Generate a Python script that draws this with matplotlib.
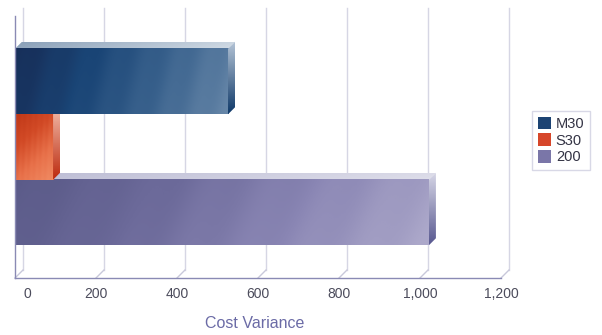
import numpy as np
import matplotlib
matplotlib.use('Agg')
import matplotlib.pyplot as plt
from matplotlib.colors import LinearSegmentedColormap
from matplotlib.patches import Polygon, Patch
from matplotlib.transforms import ScaledTranslation

# ---- data ----
series = ['M30', 'S30', '200']
values = [526, 94, 1022]
x_ticks = [0, 200, 400, 600, 800, 1000, 1200]
x_tick_labels = ['0', '200', '400', '600', '800', '1,000', '1,200']
x_label = 'Cost Variance'

# ---- styles ----
front_stops = {
    'M30': ['#172d57', '#1a4576', '#3b638e', '#6686a8'],
    'S30': ['#c03818', '#d24a26', '#e8714a', '#f08a62'],
    '200': ['#5a5a88', '#6c6a9a', '#8a86b4', '#aca8ca'],
}
top_stops = {
    'M30': ['#8aa0b8', '#d2dce6'],
    'S30': ['#e89a84', '#f4c4b4'],
    '200': ['#bcbcd4', '#dedeea'],
}
side_stops = {
    'M30': ['#0e3868', '#b4c4d6'],
    'S30': ['#bc2a0e', '#f2bcaa'],
    '200': ['#585890', '#d6d6e6'],
}
legend_colors = {'M30': '#1c4373', 'S30': '#d6462a', '200': '#7a76a8'}

plt.rcParams['font.family'] = ['Liberation Sans', 'DejaVu Sans']

W, H = 602, 335
fig = plt.figure(figsize=(W / 100, H / 100), dpi=100)
ax = fig.add_axes([15 / W, 1 - 278 / H, 486 / W, 262 / H])
xmin, xmax = 0, 1200
ax.set_xlim(xmin, xmax)
ax.set_ylim(-0.5, 0.5)

px_x = (xmax - xmin) / 486.0
px_y = 1.0 / 262.0

bar_h = 0.25
positions = [0.25, 0.0, -0.25]

bars = ax.barh(positions, values, height=bar_h, color='none', edgecolor='none')

# back grid lines and floor diagonals
gdx, gdy = 8 * px_x, 8 * px_y
for t in x_ticks:
    ax.plot([t + gdx, t + gdx], [-0.5 + gdy, 0.5 + gdy], color='#d6d6e4', lw=1.0,
            zorder=1, clip_on=False)
    ax.plot([t, t + gdx], [-0.5, -0.5 + gdy], color='#c8c8da', lw=1.0,
            zorder=1, clip_on=False)


def grad_image(stops, nx, ny, mode, streak=0.0):
    cmap = LinearSegmentedColormap.from_list('g', stops)
    xs = np.linspace(0, 1, nx)
    ys = np.linspace(0, 1, ny)  # 0 = top row
    X, Y = np.meshgrid(xs, ys)
    if mode == 'h':
        T = X * 0.9 + Y * 0.1
    elif mode == 'diag':
        T = X * 0.35 + Y * 0.65
    else:  # vertical, top light
        T = 1 - Y
    if streak:
        T = T + streak * np.sin((X * nx / 9.0 + Y * 2.0) * 1.3)
    return cmap(np.clip(T, 0, 1))


bdx, bdy = 7 * px_x, 7 * px_y
zbase = {'200': 3, 'S30': 6, 'M30': 9}
for name, rect in zip(series, bars.patches):
    x0, y0 = rect.get_x(), rect.get_y()
    x1, y1 = x0 + rect.get_width(), y0 + rect.get_height()
    z = zbase[name]
    mode = 'diag' if name == 'S30' else 'h'
    img = grad_image(front_stops[name], 300, 40, mode, streak=0.025)
    ax.imshow(img, extent=[x0, x1, y0, y1], aspect='auto', zorder=z,
              interpolation='bilinear', origin='upper')
    # top face
    top_pts = [(x0, y1), (x1, y1), (x1 + bdx, y1 + bdy), (x0 + bdx, y1 + bdy)]
    top_poly = Polygon(top_pts, closed=True, transform=ax.transData)
    im = ax.imshow(grad_image(top_stops[name], 100, 4, 'h'),
                   extent=[x0, x1 + bdx, y1, y1 + bdy], aspect='auto',
                   zorder=z - 0.5, interpolation='bilinear', origin='upper')
    im.set_clip_path(top_poly)
    # side face
    side_pts = [(x1, y0), (x1, y1), (x1 + bdx, y1 + bdy), (x1 + bdx, y0 + bdy)]
    side_poly = Polygon(side_pts, closed=True, transform=ax.transData)
    im = ax.imshow(grad_image(side_stops[name], 4, 60, 'v'),
                   extent=[x1, x1 + bdx, y0, y1 + bdy], aspect='auto',
                   zorder=z + 0.5, interpolation='bilinear', origin='upper')
    im.set_clip_path(side_poly)

ax.set_xlim(xmin, xmax)
ax.set_ylim(-0.5, 0.5)
ax.set_facecolor('none')

for s in ['top', 'right']:
    ax.spines[s].set_visible(False)
for s in ['left', 'bottom']:
    ax.spines[s].set_color('#8a8ab4')
    ax.spines[s].set_linewidth(1.0)
    ax.spines[s].set_zorder(20)

ax.set_yticks([])
ax.set_xticks(x_ticks)
ax.set_xticklabels(x_tick_labels)
ax.tick_params(axis='x', length=0, pad=6.5, labelsize=10, labelcolor='#4c4c5c')
lbls = ax.get_xticklabels()
lbls[0].set_transform(lbls[0].get_transform() +
                      ScaledTranslation(12 / 100, 0, fig.dpi_scale_trans))

fig.text(254.5 / W, 1 - 323 / H, x_label, ha='center', va='center',
         fontsize=11.5, color='#6b6ba6')

handles = [Patch(facecolor=legend_colors[n], edgecolor='none') for n in series]
leg = fig.legend(handles, series, loc='center left',
                 bbox_to_anchor=(532 / W, 1 - 140.5 / H), fontsize=10.5,
                 frameon=True, fancybox=False, edgecolor='#d8d8e6',
                 framealpha=1, handlelength=0.95, handleheight=0.95,
                 labelspacing=0.16, handletextpad=0.3, borderpad=0.38,
                 borderaxespad=0)
leg.get_frame().set_linewidth(1.0)
for t in leg.get_texts():
    t.set_color('#333344')

fig.savefig('out.png', dpi=100)
